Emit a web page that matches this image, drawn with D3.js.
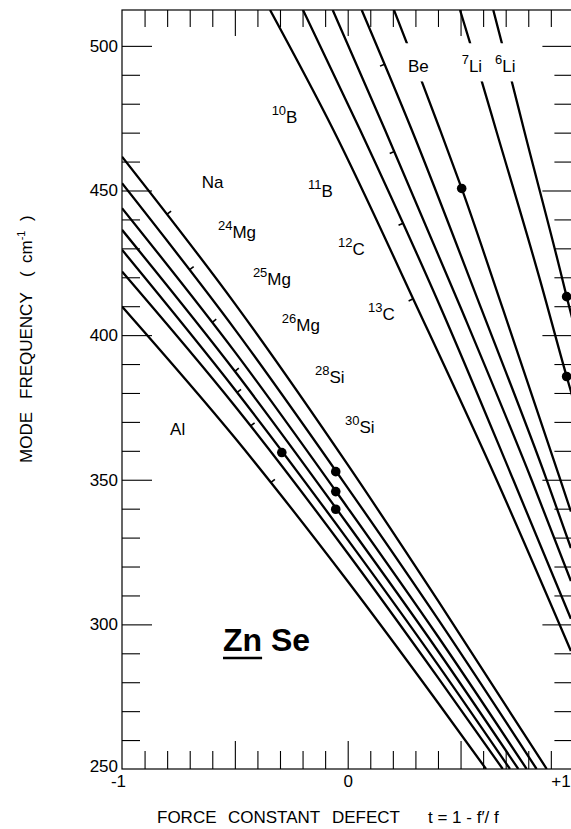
<!DOCTYPE html>
<html>
<head>
<meta charset="utf-8">
<title>Zn Se local modes</title>
<script src="https://d3js.org/d3.v7.min.js"></script>
<style>
  body { margin: 0; background: #fff; }
  svg { display: block; font-family: "Liberation Sans", Arial, sans-serif; }
  .curve { fill: none; stroke: #000; stroke-width: 2.3; }
  .axis line { stroke: #000; stroke-width: 1.1; }
  .axis path { display: none; }
  .axis text { font-size: 17px; fill: #000; font-family: "Liberation Sans", Arial, sans-serif; }
  .frame { fill: none; stroke: #000; stroke-width: 1.2; }
  .lbl { font-size: 17px; }
</style>
</head>
<body>
<svg id="chart" width="571" height="829"></svg>
<script>
// axis ranges and tick labels
const tRange = [-1, 1];
const freqRange = [250, 512.4];
const yTickValues = d3.range(250, 501, 10);
const yLabelValues = [250, 300, 350, 400, 450, 500];
const xTickValues = d3.range(-10, 11).map(d => d / 10);
const xLabelValues = [-1, 0, 1];
const xLabelText = ["-1", "0", "+1"];

// heavy impurities (lower bundle), [t, frequency]
const heavyCurves = [
  [[-1, 461.7], [-0.5, 410.9], [0, 355.2], [0.4, 308.2], [0.882, 250]],
  [[-1, 452.5], [-0.5, 402.0], [0, 347.2], [0.4, 301.8], [0.837, 250]],
  [[-1, 443.9], [-0.5, 394.2], [0, 340.3], [0.4, 295.8], [0.793, 250]],
  [[-1, 436.4], [-0.5, 387.5], [0, 334.6], [0.4, 290.8], [0.756, 250]],
  [[-1, 429.5], [-0.5, 381.2], [0, 329.3], [0.4, 286.0], [0.719, 250]],
  [[-1, 422.0], [-0.5, 375.5], [0, 324.6], [0.4, 281.6], [0.687, 250]],
  [[-1, 409.9], [-0.5, 364.5], [0, 314.9], [0.4, 272.9], [0.613, 250]]
];
// small marks on the heavy curves: [curve index, t]
const heavyMarks = [[0, -0.80], [1, -0.70], [2, -0.60], [3, -0.50], [4, -0.49], [5, -0.43], [6, -0.34]];

// light impurities (upper bundle): 13C, 12C, 11B, 10B, Be, 7Li, 6Li
const lightCurves = [
  [[-0.344, 512.4], [-0.064, 471.0], [0.313, 408.7], [0.660, 349.9], [0.989, 290.8]],
  [[-0.198, 512.4], [0.0545, 471.0], [0.4165, 408.7], [0.734, 349.9], [0.989, 301.9]],
  [[-0.0665, 512.4], [0.165, 471.0], [0.505, 408.7], [0.815, 349.9], [0.989, 315.0]],
  [[0.062, 512.4], [0.2836, 471.0], [0.594, 408.7], [0.882, 349.9], [0.989, 326.4]],
  [[0.205, 512.4], [0.328, 487.7], [0.409, 471.0], [0.505, 450.7], [0.689, 408.7], [0.9375, 351.1], [0.989, 339.0]],
  [[0.4976, 512.4], [0.594, 487.7], [0.657, 471.0], [0.852, 419.1], [0.970, 385.7], [1.0, 377.6]],
  [[0.645, 512.4], [0.727, 487.7], [0.781, 471.0], [0.941, 422.5], [0.970, 413.3], [1.0, 404.2]]
];
const lightMarks = [[3, 0.1635], [2, 0.2065], [1, 0.2455], [0, 0.290]];

// measured modes
const dotT = [-0.292, -0.053, -0.053, -0.053, 0.505, 0.970, 0.970];
const dotF = [359.4, 352.8, 345.9, 339.8, 450.7, 413.3, 385.7];

// curve labels
const labelSup = ["", "24", "25", "26", "28", "30", "", "10", "11", "12", "13", "", "7", "6"];
const labelMain = ["Na", "Mg", "Mg", "Mg", "Si", "Si", "Al", "B", "B", "C", "C", "Be", "Li", "Li"];
const labelT = [-0.647, -0.575, -0.420, -0.292, -0.145, -0.012, -0.787, -0.337, -0.176, -0.043, 0.090, 0.267, 0.505, 0.653];
const labelF = [450.9, 433.6, 417.4, 401.3, 383.5, 366.2, 365.5, 473.4, 447.9, 427.7, 405.3, 491.0, 491.0, 491.0];
// the top ends of Be / Li curves are interrupted by their labels
const gapT = [0.25, 0.8];
const gapF = [487.7, 500.9];

const svg = d3.select("#chart");
const plot = {left: 122, right: 573.4, top: 10, bottom: 769};

const x = d3.scaleLinear().domain(tRange).range([plot.left, plot.right]);
const y = d3.scaleLinear().domain(freqRange).range([plot.bottom, plot.top]);

svg.append("defs").append("clipPath").attr("id", "clip")
  .append("rect")
  .attr("x", plot.left).attr("y", plot.top)
  .attr("width", plot.right - plot.left).attr("height", plot.bottom - plot.top);

const isMajorY = d => yLabelValues.includes(d);
const isMajorX = d => Math.abs(d) < 1e-9 || Math.abs(Math.abs(d) - 0.5) < 1e-9;

// left axis
const gl = svg.append("g").attr("class", "axis")
  .attr("transform", `translate(${plot.left},0)`)
  .call(d3.axisLeft(y).tickValues(yTickValues).tickSize(-18).tickPadding(4)
    .tickFormat(d => isMajorY(d) ? d : ""));
gl.selectAll(".tick line").attr("x2", d => d === 250 ? 0 : (isMajorY(d) ? 30 : 18));
gl.selectAll(".tick text").filter(d => d === 250).attr("y", -3);

// right axis
const gr = svg.append("g").attr("class", "axis")
  .attr("transform", `translate(${plot.right},0)`)
  .call(d3.axisRight(y).tickValues(yTickValues.filter(d => d > 250)).tickSize(-19).tickFormat(""));
gr.selectAll(".tick line").attr("x2", d => isMajorY(d) ? -31 : -19);

// bottom axis
const gb = svg.append("g").attr("class", "axis")
  .attr("transform", `translate(0,${plot.bottom})`)
  .call(d3.axisBottom(x).tickValues(xTickValues).tickSize(-18).tickPadding(6)
    .tickFormat(d => {
      const i = xLabelValues.findIndex(v => Math.abs(v - d) < 1e-9);
      return i < 0 ? "" : xLabelText[i];
    }));
gb.selectAll(".tick line").attr("y2", d => Math.abs(d) > 0.99 ? 0 : (isMajorX(d) ? -28 : -18));
gb.selectAll(".tick text").attr("dx", d => d < -0.99 ? -4 : (d > 0.99 ? -13 : 0));

// top axis
const gt = svg.append("g").attr("class", "axis")
  .attr("transform", `translate(0,${plot.top})`)
  .call(d3.axisTop(x).tickValues(xTickValues.filter(d => Math.abs(d) < 0.99)).tickSize(-17).tickFormat(""));
gt.selectAll(".tick line").attr("y2", d => isMajorX(d) ? 26 : 17);

svg.append("rect").attr("class", "frame")
  .attr("x", plot.left).attr("y", plot.top)
  .attr("width", plot.right - plot.left).attr("height", plot.bottom - plot.top);

const line = d3.line().x(d => x(d[0])).y(d => y(d[1])).curve(d3.curveMonotoneX);

const curves = svg.append("g").attr("clip-path", "url(#clip)");
const heavyPaths = curves.selectAll("path.heavy").data(heavyCurves).join("path")
  .attr("class", "curve heavy").attr("d", line);
const lightPaths = curves.selectAll("path.light").data(lightCurves).join("path")
  .attr("class", "curve light").attr("d", line);

// find the point of a path at screen x, with the unit tangent there
function pointAtX(node, px) {
  let lo = 0, hi = node.getTotalLength();
  for (let k = 0; k < 40; k++) {
    const mid = (lo + hi) / 2;
    if (node.getPointAtLength(mid).x < px) lo = mid; else hi = mid;
  }
  const p = node.getPointAtLength(lo);
  const a = node.getPointAtLength(Math.max(0, lo - 2));
  const b = node.getPointAtLength(lo + 2);
  const len = Math.hypot(b.x - a.x, b.y - a.y);
  return {x: p.x, y: p.y, tx: (b.x - a.x) / len, ty: (b.y - a.y) / len};
}

function drawMarks(paths, marks, side) {
  const nodes = paths.nodes();
  marks.forEach(([ci, t]) => {
    const p = pointAtX(nodes[ci], x(t));
    const nx = side > 0 ? p.ty : -p.ty;
    const ny = side > 0 ? -p.tx : p.tx;
    curves.append("line")
      .attr("x1", p.x).attr("y1", p.y)
      .attr("x2", p.x + nx * 5).attr("y2", p.y + ny * 5)
      .attr("stroke", "#000").attr("stroke-width", 1.6);
  });
}
drawMarks(heavyPaths, heavyMarks, 1);
drawMarks(lightPaths, lightMarks, -1);

// gap in the Be / Li curves behind their labels
svg.append("rect")
  .attr("x", x(gapT[0])).attr("y", y(gapF[1]))
  .attr("width", x(gapT[1]) - x(gapT[0])).attr("height", y(gapF[0]) - y(gapF[1]))
  .attr("fill", "#fff");

svg.append("g").selectAll("circle").data(dotT).join("circle")
  .attr("cx", d => x(d)).attr("cy", (d, i) => y(dotF[i])).attr("r", 4.8).attr("fill", "#000");

// curve labels
const lbl = svg.append("g").selectAll("text").data(labelMain).join("text")
  .attr("class", "lbl")
  .attr("x", (d, i) => x(labelT[i])).attr("y", (d, i) => y(labelF[i]));
lbl.each(function(d, i) {
  const t = d3.select(this);
  if (labelSup[i]) {
    t.append("tspan").attr("font-size", 13).attr("dy", -8).text(labelSup[i]);
    t.append("tspan").attr("dy", 8).text(d);
  } else {
    t.append("tspan").text(d);
  }
});

// compound name
const zn = svg.append("text")
  .attr("x", x(-0.5525)).attr("y", y(290.8))
  .attr("font-size", 32).attr("font-weight", "bold")
  .text("Zn Se");
const znLen = zn.node().getSubStringLength(0, 2);
svg.append("line")
  .attr("x1", x(-0.5525)).attr("x2", x(-0.5525) + znLen)
  .attr("y1", y(290.8) + 7).attr("y2", y(290.8) + 7)
  .attr("stroke", "#000").attr("stroke-width", 2.5);

// axis titles
const xt = svg.append("text").attr("y", 823).attr("font-size", 17);
xt.append("tspan").attr("x", 157).text("FORCE");
xt.append("tspan").attr("x", 228).text("CONSTANT");
xt.append("tspan").attr("x", 332).text("DEFECT");
xt.append("tspan").attr("x", 428).text("t = 1 - f\u2032/ f");

const yt = svg.append("text").attr("transform", "translate(31.5,0) rotate(-90)").attr("font-size", 17);
yt.append("tspan").attr("x", -463).text("MODE");
yt.append("tspan").attr("x", -399).text("FREQUENCY");
yt.append("tspan").attr("x", -277).text("(");
yt.append("tspan").attr("x", -263).text("cm");
yt.append("tspan").attr("dy", -7).attr("font-size", 11).text("-1");
yt.append("tspan").attr("dy", 7).attr("x", -221).text(")");
</script>
</body>
</html>
